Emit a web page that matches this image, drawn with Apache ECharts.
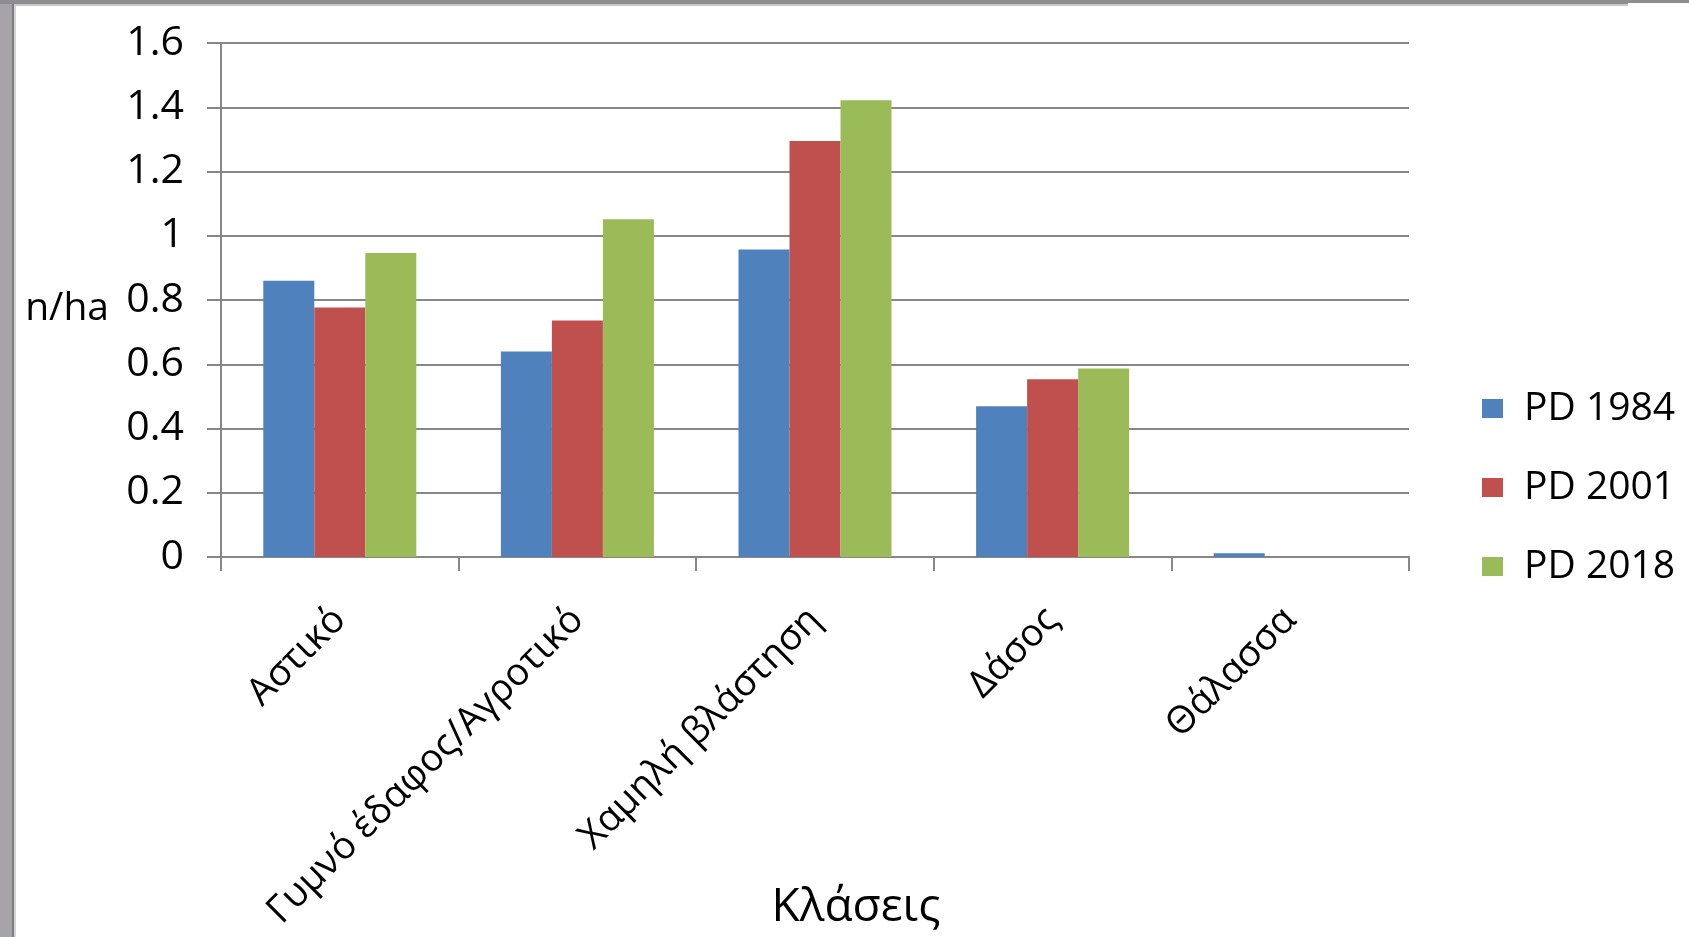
<!DOCTYPE html>
<html>
<head>
<meta charset="utf-8">
<script src="https://cdn.jsdelivr.net/npm/echarts@6/dist/echarts.min.js"></script>
<style>
html,body{margin:0;padding:0;background:#fff;}
#chart{width:1689px;height:937px;}
</style>
</head>
<body>
<div id="chart"></div>
<script>
const categories = ['Αστικό', 'Γυμνό έδαφος/Αγροτικό', 'Χαμηλή βλάστηση', 'Δάσος', 'Θάλασσα'];
const seriesNames = ['PD 1984', 'PD 2001', 'PD 2018'];
const pd1984 = [0.86, 0.64, 0.957, 0.469, 0.012];
const pd2001 = [0.777, 0.736, 1.295, 0.553, 0];
const pd2018 = [0.946, 1.051, 1.422, 0.587, 0];
const seriesColors = ['#4f81bd', '#c0504d', '#9bbb59'];

const FONT = 'Open Sans';
const chart = echarts.init(document.getElementById('chart'));
const dataSets = [pd1984, pd2001, pd2018];

chart.setOption({
  animation: false,
  backgroundColor: '#ffffff',
  textStyle: { fontFamily: FONT },
  grid: { left: 221, right: 280, top: 43, bottom: 380, containLabel: false, outerBoundsMode: 'none' },
  legend: {
    orient: 'vertical',
    left: 1477,
    top: 384,
    itemWidth: 21,
    itemHeight: 19,
    itemGap: 40,
    icon: 'rect',
    data: seriesNames,
    textStyle: { fontFamily: FONT, fontSize: 39, color: '#000', padding: [0, 0, 0, 16] }
  },
  xAxis: {
    type: 'category',
    data: categories,
    name: 'Κλάσεις',
    nameLocation: 'middle',
    nameGap: 328,
    nameMoveOverlap: false,
    nameTextStyle: { fontFamily: FONT, fontSize: 46, color: '#000', padding: [0, 0, 0, 82] },
    axisLine: { lineStyle: { color: '#878787', width: 2 } },
    axisTick: { show: true, length: 14, lineStyle: { color: '#878787', width: 2 } },
    axisLabel: { rotate: 45, fontFamily: FONT, fontSize: 38, color: '#000', margin: 57, interval: 0 },
    splitLine: { show: false }
  },
  yAxis: {
    type: 'value',
    min: 0,
    max: 1.6,
    interval: 0.2,
    name: 'n/ha',
    nameLocation: 'middle',
    nameRotate: 0,
    nameGap: 112,
    nameMoveOverlap: false,
    nameTextStyle: { fontFamily: FONT, fontSize: 39, color: '#000', verticalAlign: 'top', lineHeight: 18 },
    axisLine: { show: true, lineStyle: { color: '#878787', width: 2 } },
    axisTick: { show: true, length: 14, lineStyle: { color: '#878787', width: 2 } },
    axisLabel: { fontFamily: FONT, fontSize: 41, color: '#000', margin: 37 },
    splitLine: { show: true, lineStyle: { color: '#878787', width: 2 } }
  },
  series: seriesNames.map((name, i) => ({
    name: name,
    type: 'bar',
    data: dataSets[i],
    itemStyle: { color: seriesColors[i] },
    barGap: '0%',
    barCategoryGap: '35.6%'
  })),
  graphic: [
    { type: 'rect', shape: { x: 0, y: 0, width: 12, height: 937 }, style: { fill: '#a6a4a9' }, z: 100 },
    { type: 'rect', shape: { x: 12, y: 0, width: 2, height: 937 }, style: { fill: '#7f7d82' }, z: 100 },
    { type: 'rect', shape: { x: 14, y: 4, width: 2, height: 933 }, style: { fill: '#d4d3d6' }, z: 100 },
    { type: 'rect', shape: { x: 0, y: 0, width: 1628, height: 4 }, style: { fill: '#8f8d92' }, z: 100 },
    { type: 'rect', shape: { x: 14, y: 4, width: 1614, height: 2 }, style: { fill: '#c9c8cb' }, z: 100 },
    { type: 'rect', shape: { x: 1628, y: 0, width: 61, height: 3 }, style: { fill: '#8f8d92' }, z: 100 }
  ]
});
</script>
</body>
</html>
